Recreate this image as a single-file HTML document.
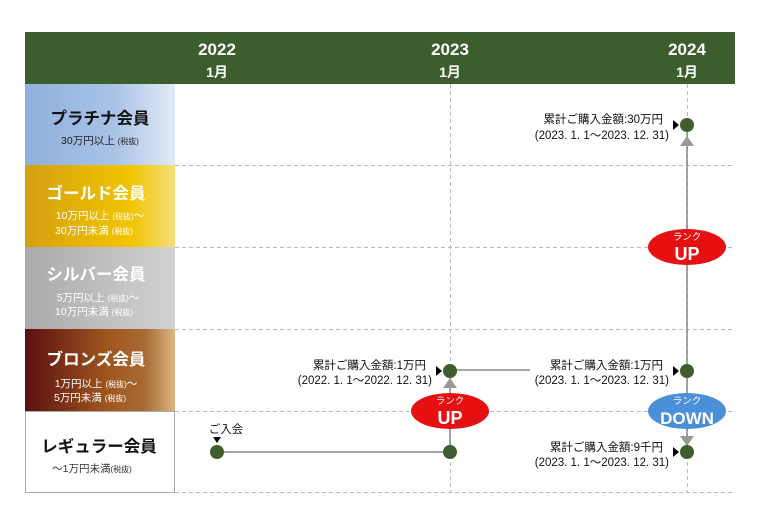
<!DOCTYPE html>
<html><head><meta charset="utf-8"><style>
body{margin:0;background:#fff}
svg{display:block;font-family:"Liberation Sans","Noto Sans CJK JP",sans-serif}
</style></head><body>
<svg width="760" height="519" viewBox="0 0 760 519" xmlns="http://www.w3.org/2000/svg">
<defs>
<linearGradient id="pl" x1="0" x2="1"><stop offset="0" stop-color="#8fb0dc"/><stop offset="0.6" stop-color="#a9c3e6"/><stop offset="1" stop-color="#e2ebf7"/></linearGradient>
<linearGradient id="go" x1="0" x2="1"><stop offset="0" stop-color="#d3a010"/><stop offset="0.7" stop-color="#f2c400"/><stop offset="1" stop-color="#f4de7a"/></linearGradient>
<linearGradient id="si" x1="0" x2="1"><stop offset="0" stop-color="#aaaaaa"/><stop offset="1" stop-color="#d2d2d2"/></linearGradient>
<linearGradient id="br" x1="0" x2="1"><stop offset="0" stop-color="#5a1010"/><stop offset="0.55" stop-color="#a0561e"/><stop offset="0.8" stop-color="#a86a34"/><stop offset="1" stop-color="#dcb680"/></linearGradient>
</defs>
<rect x="25" y="32" width="710" height="52" fill="#3c5e2c"/>
<g fill="#fff" font-size="17" font-weight="bold" text-anchor="middle">
<text x="217" y="55">2022</text><text x="450" y="55">2023</text><text x="687" y="55">2024</text>
<text x="217" y="77" font-size="14">1月</text><text x="450" y="77" font-size="14">1月</text><text x="687" y="77" font-size="14">1月</text>
</g>
<rect x="25" y="84" width="150" height="81" fill="url(#pl)"/>
<rect x="25" y="165" width="150" height="82" fill="url(#go)"/>
<rect x="25" y="247" width="150" height="82" fill="url(#si)"/>
<rect x="25" y="329" width="150" height="82" fill="url(#br)"/>
<rect x="25.5" y="411.5" width="149" height="81" fill="#fff" stroke="#aaa"/>
<g stroke="#bbb" stroke-dasharray="4,3" fill="none">
<path d="M175 165.5H735M175 247.5H735M175 329.5H735M175 411.5H735M175 492.5H735"/>
<path d="M450.5 84V493M687.5 84V493"/>
</g>
<g text-anchor="middle">
<text x="100" y="124" font-size="16.5" font-weight="bold" fill="#111">プラチナ会員</text>
<text x="100" y="144" font-size="10.5" fill="#222">30万円以上 <tspan font-size="8">(税抜)</tspan></text>
<text x="96" y="199" font-size="16.5" font-weight="bold" fill="#fff">ゴールド会員</text>
<text x="100" y="219" font-size="10.5" fill="#fff">10万円以上 <tspan font-size="8">(税抜)</tspan>～</text>
<text x="94" y="234" font-size="10.5" fill="#fff">30万円未満 <tspan font-size="8">(税抜)</tspan></text>
<text x="96" y="280" font-size="16.5" font-weight="bold" fill="#fff">シルバー会員</text>
<text x="98" y="301" font-size="10.5" fill="#fff">5万円以上 <tspan font-size="8">(税抜)</tspan>～</text>
<text x="94" y="315" font-size="10.5" fill="#fff">10万円未満 <tspan font-size="8">(税抜)</tspan></text>
<text x="96" y="365" font-size="16.5" font-weight="bold" fill="#fff">ブロンズ会員</text>
<text x="96" y="387" font-size="10.5" fill="#fff">1万円以上 <tspan font-size="8">(税抜)</tspan>～</text>
<text x="90" y="401" font-size="10.5" fill="#fff">5万円未満 <tspan font-size="8">(税抜)</tspan></text>
<text x="99" y="452" font-size="16.5" font-weight="bold" fill="#111">レギュラー会員</text>
<text x="92" y="472" font-size="10.5" fill="#333">～1万円未満<tspan font-size="8">(税抜)</tspan></text>
</g>
<g stroke="#888" stroke-width="1.5">
<path d="M217 452H450M450 370H530M450 452V370M687 125V452"/>
</g>
<g fill="#999">
<path d="M443 388L450 378L457 388Z"/><path d="M680 146L687 136L694 146Z"/><path d="M680 436L687 446L694 436Z"/>
</g>
<ellipse cx="450" cy="411" rx="39" ry="18" fill="#e60f11"/>
<ellipse cx="687" cy="247" rx="39" ry="18" fill="#e60f11"/>
<ellipse cx="687" cy="411" rx="39" ry="18" fill="#4a8fd8"/>
<g fill="#fff" text-anchor="middle">
<text x="450" y="404" font-size="9.5">ランク</text><text x="450" y="424" font-size="18" font-weight="bold">UP</text>
<text x="687" y="240" font-size="9.5">ランク</text><text x="687" y="260" font-size="18" font-weight="bold">UP</text>
<text x="687" y="404" font-size="9.5">ランク</text><text x="687" y="424" font-size="17" font-weight="bold">DOWN</text>
</g>
<g fill="#3e5f2d">
<circle cx="217" cy="452" r="7"/><circle cx="450" cy="452" r="7"/><circle cx="450" cy="371" r="7"/>
<circle cx="687" cy="371" r="7"/><circle cx="687" cy="452" r="7"/><circle cx="687" cy="125" r="7"/>
</g>
<g fill="#000">
<path d="M213 437H221L217 443Z"/>
<path d="M436 366L442 371L436 376Z"/><path d="M673 366L679 371L673 376Z"/>
<path d="M673 447L679 452L673 457Z"/><path d="M673 120L679 125L673 130Z"/>
</g>
<g font-size="11.5" fill="#111" text-anchor="end">
<text x="226" y="433" text-anchor="middle">ご入会</text>
<text x="426" y="369">累計ご購入金額:1万円</text><text x="432" y="384">(2022. 1. 1～2022. 12. 31)</text>
<text x="663" y="369">累計ご購入金額:1万円</text><text x="669" y="384">(2023. 1. 1～2023. 12. 31)</text>
<text x="663" y="451">累計ご購入金額:9千円</text><text x="669" y="466">(2023. 1. 1～2023. 12. 31)</text>
<text x="663" y="123">累計ご購入金額:30万円</text><text x="669" y="139">(2023. 1. 1～2023. 12. 31)</text>
</g>
</svg>
</body></html>
